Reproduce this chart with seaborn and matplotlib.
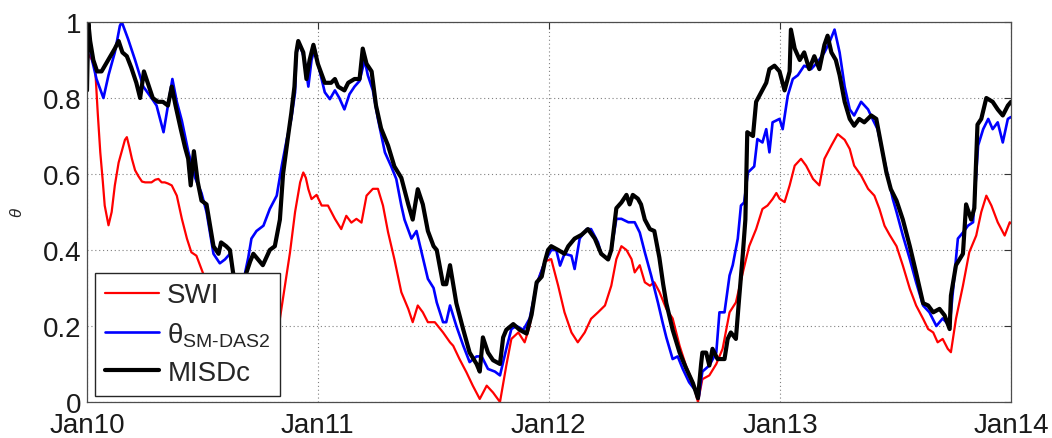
import pandas as pd
import matplotlib
matplotlib.use('Agg')
import matplotlib.pyplot as plt
import matplotlib.dates as mdates
import seaborn as sns

# day offsets from 1 Jan 2010
swi_days = [0, 8, 13, 17, 21, 25, 28, 34, 39, 44,
            50, 55, 60, 63, 67, 71, 76, 81, 87, 92,
            102, 108, 113, 118, 123, 128, 134, 142, 150, 155,
            158, 165, 173, 181, 190, 205, 220, 240, 260, 280,
            300, 305, 313, 321, 329, 337, 342, 346, 350, 355,
            363, 371, 381, 392, 402, 410, 418, 426, 434, 442,
            452, 460, 468, 476, 486, 497, 508, 515, 523, 531,
            539, 550, 563, 574, 579, 589, 600, 610, 621, 632,
            642, 653, 663, 671, 682, 692, 700, 711, 724, 734,
            745, 755, 766, 776, 787, 797, 808, 819, 829, 837,
            845, 853, 861, 866, 874, 882, 890, 897, 905, 916,
            926, 937, 947, 958, 966, 973, 984, 995, 1005, 1016,
            1026, 1037, 1047, 1058, 1068, 1076, 1084, 1090, 1095, 1103,
            1111, 1119, 1129, 1137, 1148, 1158, 1166, 1177, 1187, 1198,
            1206, 1213, 1224, 1235, 1245, 1253, 1261, 1269, 1280, 1290,
            1301, 1311, 1322, 1330, 1338, 1345, 1353, 1361, 1366, 1374,
            1385, 1395, 1406, 1414, 1422, 1430, 1440, 1451, 1459, 1461]
swi_vals = [0.92, 0.90, 0.876, 0.76, 0.657, 0.58, 0.517, 0.465, 0.50, 0.57,
            0.63, 0.66, 0.69, 0.697, 0.67, 0.64, 0.61, 0.595, 0.58, 0.578,
            0.578, 0.585, 0.587, 0.578, 0.578, 0.575, 0.57, 0.543, 0.482, 0.45,
            0.43, 0.394, 0.385, 0.35, 0.31, 0.26, 0.22, 0.19, 0.17, 0.18,
            0.20, 0.219, 0.306, 0.394, 0.50, 0.578, 0.604, 0.59, 0.56, 0.534,
            0.545, 0.517, 0.517, 0.482, 0.455, 0.49, 0.472, 0.482, 0.472, 0.543,
            0.561, 0.561, 0.517, 0.447, 0.376, 0.289, 0.245, 0.21, 0.254, 0.236,
            0.21, 0.21, 0.183, 0.157, 0.148, 0.113, 0.078, 0.043, 0.008, 0.043,
            0.025, 0.0, 0.096, 0.166, 0.183, 0.157, 0.20, 0.31, 0.37, 0.376,
            0.306, 0.236, 0.183, 0.157, 0.183, 0.219, 0.236, 0.254, 0.306, 0.376,
            0.41, 0.40, 0.376, 0.341, 0.36, 0.315, 0.306, 0.315, 0.29, 0.245,
            0.22, 0.148, 0.096, 0.052, 0.0, 0.06, 0.07, 0.10, 0.14, 0.236,
            0.262, 0.341, 0.41, 0.455, 0.508, 0.517, 0.534, 0.55, 0.535, 0.526,
            0.57, 0.622, 0.64, 0.622, 0.587, 0.57, 0.64, 0.675, 0.705, 0.69,
            0.666, 0.622, 0.596, 0.561, 0.543, 0.508, 0.464, 0.44, 0.41, 0.359,
            0.298, 0.254, 0.219, 0.192, 0.183, 0.157, 0.166, 0.14, 0.131, 0.219,
            0.306, 0.394, 0.438, 0.50, 0.543, 0.517, 0.473, 0.438, 0.473, 0.47]

das2_days = [0, 3, 8, 15, 26, 34, 44, 52, 55, 65,
             76, 89, 102, 110, 121, 129, 135, 142, 150, 160,
             171, 181, 189, 200, 210, 218, 226, 231, 245, 255,
             260, 268, 279, 289, 300, 308, 316, 323, 329, 331,
             337, 344, 350, 355, 360, 368, 376, 384, 392, 399,
             407, 415, 423, 431, 439, 444, 452, 460, 471, 481,
             489, 497, 502, 513, 521, 529, 539, 548, 553, 563,
             568, 574, 584, 595, 605, 616, 624, 634, 645, 653,
             663, 671, 679, 690, 700, 711, 724, 734, 742, 748,
             755, 766, 771, 779, 790, 797, 808, 813, 824, 829,
             837, 845, 856, 866, 874, 882, 892, 903, 910, 916,
             926, 934, 942, 952, 962, 967, 973, 984, 995, 1000,
             1008, 1016, 1021, 1029, 1034, 1039, 1045, 1055, 1060, 1068,
             1074, 1079, 1084, 1095, 1100, 1108, 1116, 1124, 1134, 1145,
             1155, 1166, 1174, 1182, 1190, 1198, 1206, 1213, 1224, 1235,
             1242, 1250, 1258, 1266, 1274, 1280, 1290, 1301, 1311, 1322,
             1332, 1343, 1353, 1364, 1372, 1377, 1385, 1393, 1401, 1409,
             1417, 1425, 1432, 1440, 1448, 1456, 1461]
das2_vals = [0.85, 0.97, 0.90, 0.85, 0.80, 0.86, 0.92, 0.99, 1.00, 0.955,
             0.90, 0.83, 0.80, 0.78, 0.71, 0.79, 0.85, 0.79, 0.74, 0.66,
             0.59, 0.55, 0.50, 0.39, 0.365, 0.375, 0.39, 0.34, 0.30, 0.38,
             0.43, 0.45, 0.464, 0.508, 0.543, 0.622, 0.692, 0.745, 0.815, 0.92,
             0.94, 0.90, 0.83, 0.90, 0.93, 0.87, 0.815, 0.797, 0.82, 0.80,
             0.77, 0.81, 0.83, 0.845, 0.90, 0.86, 0.82, 0.745, 0.657, 0.62,
             0.587, 0.517, 0.48, 0.43, 0.45, 0.394, 0.324, 0.30, 0.262, 0.21,
             0.21, 0.254, 0.20, 0.148, 0.105, 0.12, 0.12, 0.087, 0.08, 0.07,
             0.14, 0.192, 0.20, 0.19, 0.22, 0.31, 0.37, 0.40, 0.40, 0.359,
             0.39, 0.385, 0.35, 0.43, 0.455, 0.455, 0.42, 0.39, 0.375, 0.40,
             0.482, 0.482, 0.473, 0.473, 0.446, 0.394, 0.333, 0.26, 0.21, 0.17,
             0.113, 0.12, 0.087, 0.052, 0.03, 0.01, 0.08, 0.096, 0.13, 0.236,
             0.236, 0.333, 0.36, 0.43, 0.517, 0.525, 0.604, 0.62, 0.692, 0.683,
             0.718, 0.657, 0.736, 0.745, 0.718, 0.806, 0.85, 0.86, 0.885, 0.876,
             0.894, 0.92, 0.947, 0.98, 0.92, 0.83, 0.77, 0.754, 0.79, 0.77,
             0.745, 0.718, 0.657, 0.596, 0.535, 0.50, 0.438, 0.376, 0.315, 0.254,
             0.236, 0.20, 0.22, 0.20, 0.341, 0.43, 0.446, 0.464, 0.473, 0.675,
             0.718, 0.745, 0.718, 0.736, 0.683, 0.745, 0.75]

misdc_days = [0, 2, 5, 10, 16, 23, 30, 37, 44, 50,
              56, 63, 70, 78, 84, 90, 96, 104, 112, 120,
              128, 134, 140, 148, 155, 160, 164, 169, 175, 181,
              189, 200, 208, 212, 220, 226, 231, 240, 250, 258,
              263, 268, 278, 289, 297, 305, 310, 318, 323, 328,
              331, 334, 342, 347, 352, 358, 365, 376, 386, 392,
              397, 407, 413, 423, 431, 436, 442, 450, 457, 465,
              476, 486, 497, 508, 515, 523, 531, 539, 548, 553,
              563, 568, 574, 584, 595, 605, 616, 621, 626, 634,
              642, 653, 658, 663, 674, 684, 695, 703, 711, 719,
              724, 729, 734, 745, 755, 761, 771, 782, 792, 803,
              813, 824, 829, 837, 845, 853, 858, 863, 871, 876,
              882, 890, 897, 905, 911, 916, 926, 937, 947, 958,
              966, 971, 973, 979, 984, 989, 997, 1008, 1013, 1018,
              1026, 1031, 1037, 1041, 1044, 1053, 1058, 1066, 1074, 1079,
              1087, 1095, 1103, 1111, 1113, 1119, 1127, 1134, 1142, 1150,
              1158, 1166, 1171, 1177, 1184, 1190, 1198, 1206, 1213, 1221,
              1229, 1240, 1248, 1256, 1264, 1271, 1280, 1290, 1301, 1311,
              1322, 1330, 1338, 1348, 1356, 1364, 1366, 1374, 1385, 1390,
              1398, 1403, 1408, 1414, 1422, 1432, 1440, 1448, 1456, 1461]
misdc_vals = [0.82, 1.00, 0.95, 0.90, 0.87, 0.87, 0.89, 0.91, 0.93, 0.95,
              0.92, 0.91, 0.88, 0.84, 0.80, 0.87, 0.84, 0.80, 0.79, 0.79,
              0.78, 0.83, 0.78, 0.72, 0.67, 0.64, 0.57, 0.66, 0.58, 0.53,
              0.52, 0.41, 0.39, 0.42, 0.41, 0.40, 0.34, 0.30, 0.33, 0.37,
              0.39, 0.38, 0.36, 0.40, 0.41, 0.48, 0.60, 0.70, 0.76, 0.83,
              0.92, 0.95, 0.92, 0.85, 0.90, 0.94, 0.89, 0.84, 0.84, 0.85,
              0.83, 0.82, 0.84, 0.85, 0.85, 0.93, 0.89, 0.87, 0.78, 0.72,
              0.675, 0.62, 0.59, 0.52, 0.48, 0.56, 0.52, 0.45, 0.41, 0.40,
              0.31, 0.31, 0.36, 0.26, 0.19, 0.13, 0.10, 0.08, 0.17, 0.13,
              0.11, 0.10, 0.17, 0.19, 0.205, 0.19, 0.18, 0.23, 0.315, 0.33,
              0.37, 0.40, 0.41, 0.40, 0.39, 0.41, 0.43, 0.44, 0.455, 0.43,
              0.39, 0.375, 0.40, 0.51, 0.525, 0.545, 0.52, 0.545, 0.535, 0.52,
              0.48, 0.455, 0.45, 0.38, 0.31, 0.26, 0.19, 0.13, 0.09, 0.05,
              0.01, 0.10, 0.13, 0.13, 0.096, 0.14, 0.113, 0.113, 0.166, 0.183,
              0.166, 0.27, 0.39, 0.48, 0.71, 0.70, 0.79, 0.815, 0.84, 0.876,
              0.885, 0.87, 0.82, 0.87, 0.98, 0.93, 0.90, 0.92, 0.876, 0.91,
              0.876, 0.94, 0.964, 0.92, 0.90, 0.86, 0.79, 0.745, 0.727, 0.745,
              0.736, 0.754, 0.745, 0.675, 0.604, 0.56, 0.53, 0.48, 0.41, 0.34,
              0.26, 0.254, 0.236, 0.245, 0.228, 0.192, 0.28, 0.36, 0.39, 0.52,
              0.48, 0.51, 0.73, 0.745, 0.80, 0.79, 0.77, 0.754, 0.78, 0.79]

year_ticks = ['2010-01-01', '2011-01-01', '2012-01-01', '2013-01-01', '2014-01-01']
y_ticks = [0, 0.2, 0.4, 0.6, 0.8, 1]
y_ticklabels = ['0', '0.2', '0.4', '0.6', '0.8', '1']

sns.set_style('white')
plt.rcParams['font.family'] = ['Liberation Sans', 'DejaVu Sans']
plt.rcParams['mathtext.fontset'] = 'custom'
plt.rcParams['mathtext.rm'] = 'Liberation Sans'
plt.rcParams['mathtext.it'] = 'Liberation Sans:italic'

start = pd.Timestamp(year_ticks[0])


def to_dates(days):
    return start + pd.to_timedelta(days, unit='D')


fig = plt.figure(figsize=(10.52, 4.39), dpi=100)
ax = fig.add_axes([87 / 1052, 36 / 439, 924 / 1052, 380 / 439])

sns.lineplot(x=to_dates(swi_days), y=swi_vals, ax=ax, color='#ff0000',
             linewidth=1.6, label='SWI')
sns.lineplot(x=to_dates(das2_days), y=das2_vals, ax=ax, color='#0000ff',
             linewidth=1.9, label=r'θ$_{\mathregular{SM\text{-}DAS2}}$')
sns.lineplot(x=to_dates(misdc_days), y=misdc_vals, ax=ax, color='black',
             linewidth=3.0, label='MISDc')

ax.set_xlim(pd.Timestamp(year_ticks[0]), pd.Timestamp(year_ticks[-1]))
ax.set_ylim(0, 1)
ax.set_xticks(pd.to_datetime(year_ticks))
ax.xaxis.set_major_formatter(mdates.DateFormatter('%b%y'))
ax.set_yticks(y_ticks)
ax.set_yticklabels(y_ticklabels)

ax.tick_params(direction='in', top=True, right=True, labelsize=20,
               length=5, width=0.8, color='0.2', labelcolor='0.1')
ax.tick_params(axis='x', pad=7)
ax.tick_params(axis='y', pad=4)
ax.grid(True, linestyle=(0, (1, 2.5)), color='0.5', linewidth=0.8)
for sp in ax.spines.values():
    sp.set_color('0.3')
    sp.set_linewidth(0.9)

ax.set_xlabel('')
ax.set_ylabel(r'$\theta$', fontsize=12)
ax.yaxis.set_label_coords(-0.067, 0.5)

handles, labels = ax.get_legend_handles_labels()
leg = ax.legend(handles, labels, loc='lower left', bbox_to_anchor=(0.0087, 0.016),
                borderaxespad=0, fontsize=20, frameon=True, fancybox=False,
                framealpha=1, edgecolor='0.15', handlelength=1.95,
                handletextpad=0.3, borderpad=0.35, labelspacing=0.42)
leg.get_frame().set_linewidth(1.0)

fig.savefig('out.png', dpi=100)
